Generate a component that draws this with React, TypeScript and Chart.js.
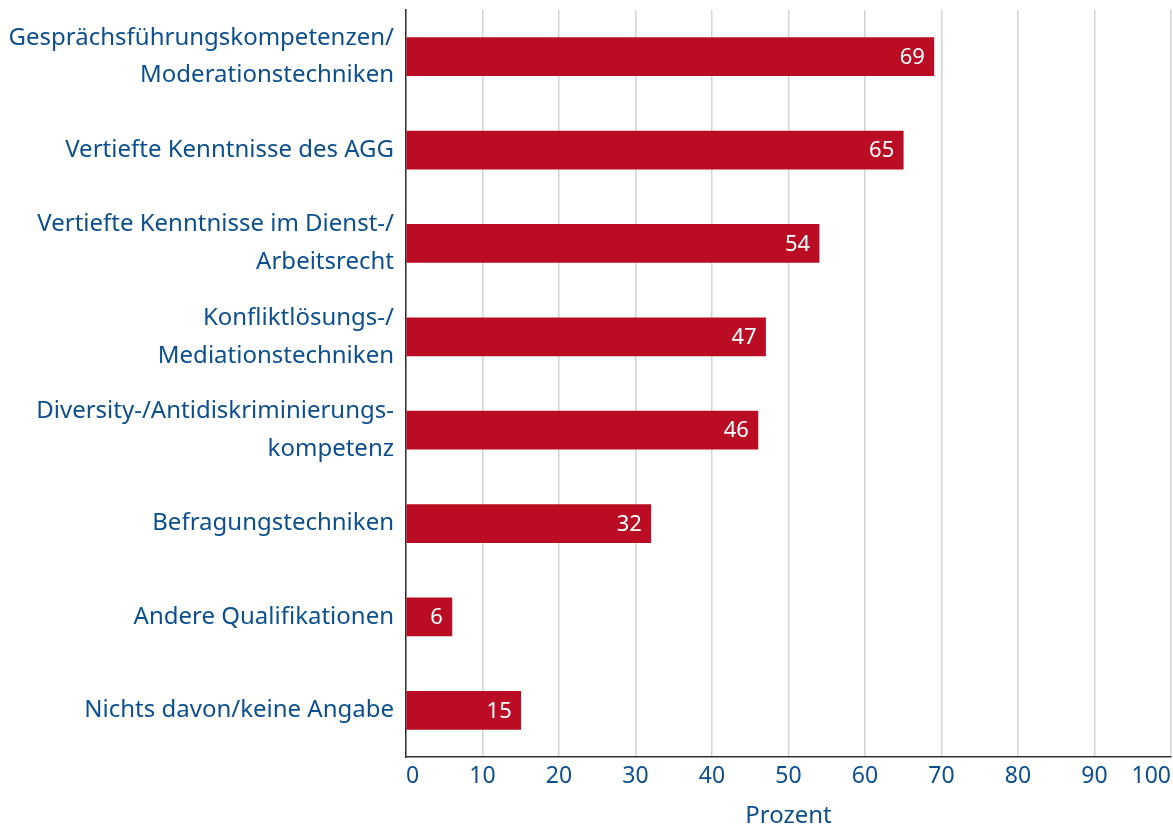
import React, { useEffect, useRef } from "react";
import { Chart, registerables } from "chart.js";

Chart.register(...registerables);

const categories: string[][] = [
  ["Gesprächsführungskompetenzen/", "Moderationstechniken"],
  ["Vertiefte Kenntnisse des AGG"],
  ["Vertiefte Kenntnisse im Dienst-/", "Arbeitsrecht"],
  ["Konfliktlösungs-/", "Mediationstechniken"],
  ["Diversity-/Antidiskriminierungs-", "kompetenz"],
  ["Befragungstechniken"],
  ["Andere Qualifikationen"],
  ["Nichts davon/keine Angabe"],
];
const values: number[] = [69, 65, 54, 47, 46, 32, 6, 15];
const xTicks: number[] = [0, 10, 20, 30, 40, 50, 60, 70, 80, 90, 100];
const axisTitle = "Prozent";

const FONT = "'Noto Sans', 'Open Sans', sans-serif";
const BLUE = "#0b4f8e";
const RED = "#ba0c22";

const valueLabels = {
  id: "valueLabels",
  afterDatasetsDraw(chart: any) {
    const ctx = chart.ctx;
    const meta = chart.getDatasetMeta(0);
    ctx.save();
    ctx.fillStyle = "#ffffff";
    ctx.font = `22px ${FONT}`;
    ctx.textAlign = "right";
    ctx.textBaseline = "middle";
    meta.data.forEach((bar: any, i: number) => {
      ctx.fillText(String(values[i]), bar.x - 9, bar.y + 1);
    });
    ctx.restore();
  },
};

export default function App() {
  const ref = useRef<HTMLCanvasElement | null>(null);
  useEffect(() => {
    if (!ref.current) return;
    const chart = new Chart(ref.current, {
      type: "bar",
      data: {
        labels: categories,
        datasets: [
          {
            data: values,
            backgroundColor: RED,
            borderWidth: 0,
            barThickness: 38,
          },
        ],
      },
      plugins: [valueLabels],
      options: {
        indexAxis: "y",
        animation: false,
        responsive: false,
        maintainAspectRatio: false,
        layout: { padding: { top: 10, right: 2, left: 0, bottom: 0 } },
        plugins: {
          legend: { display: false },
          tooltip: { enabled: false },
        },
        scales: {
          x: {
            type: "linear",
            min: 0,
            max: 100,
            afterBuildTicks: (scale: any) => {
              scale.ticks = xTicks.map((v) => ({ value: v }));
            },
            afterFit: (scale: any) => {
              scale.height = 70;
              scale.paddingRight = 0;
              scale.paddingLeft = 0;
            },
            grid: {
              color: "#d3d3d3",
              lineWidth: 1.5,
              drawTicks: false,
            },
            border: { color: "#333333", width: 1.5 },
            ticks: {
              color: BLUE,
              font: { family: FONT, size: 23 },
              padding: 6,
              align: "inner",
              maxRotation: 0,
              autoSkip: false,
            },
            title: {
              display: true,
              text: axisTitle,
              color: BLUE,
              font: { family: FONT, size: 24 },
              padding: { top: 0, bottom: -4 },
            },
          },
          y: {
            type: "category",
            afterFit: (scale: any) => {
              scale.width = 406;
              scale.paddingTop = 0;
              scale.paddingBottom = 0;
            },
            grid: { display: false, drawTicks: false },
            border: { color: "#333333", width: 1.5 },
            ticks: {
              color: BLUE,
              font: { family: FONT, size: 24, lineHeight: 1.58 },
              padding: 12,
              autoSkip: false,
            },
          },
        },
      },
    } as any);
    return () => chart.destroy();
  }, []);
  return (
    <div style={{ position: "absolute", left: 0, top: 0, width: 1173, height: 827, background: "#fff" }}>
      <canvas ref={ref} width={1173} height={827} style={{ width: 1173, height: 827 }} />
    </div>
  );
}
